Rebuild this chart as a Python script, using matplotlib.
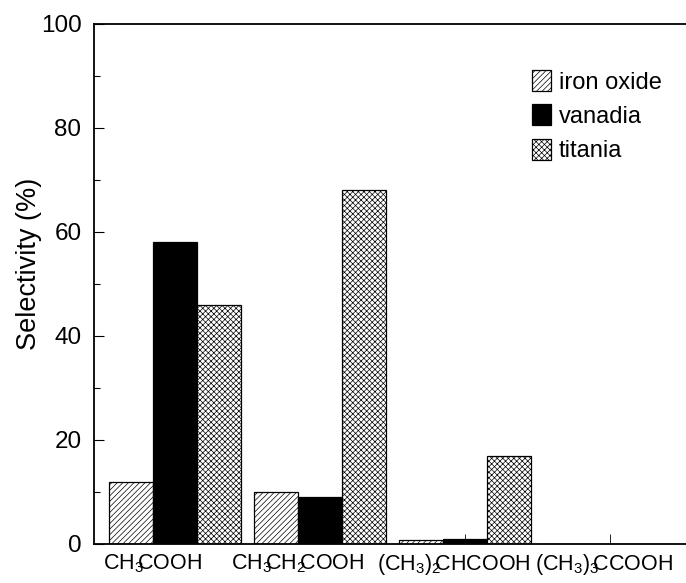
import matplotlib
matplotlib.use("Agg")
import matplotlib.pyplot as plt
import matplotlib.transforms as mtransforms
import numpy as np

# ── Data ──────────────────────────────────────────────────────────────
# subscripts are tucked under the following letter with negative math space
acids = [r"CH$_3\!\!$COOH", r"CH$_3\!\!$CH$_2\!\!$COOH",
         r"(CH$_3$)$_2\!\!$CHCOOH", r"(CH$_3$)$_3\!\!$CCOOH"]
label_shift_px = [-23, -22, -11, -6]
catalysts = ["iron oxide", "vanadia", "titania"]
iron_oxide = [12, 10, 0.8, 0]
vanadia = [58, 9, 1, 0]
titania = [46, 68, 17, 0]

# ── Style ─────────────────────────────────────────────────────────────
plt.rcParams["font.family"] = ["Liberation Sans", "DejaVu Sans"]
plt.rcParams["mathtext.fontset"] = "custom"
plt.rcParams["mathtext.rm"] = "Liberation Sans"
plt.rcParams["mathtext.it"] = "Liberation Sans"
plt.rcParams["mathtext.default"] = "rm"
plt.rcParams["hatch.linewidth"] = 0.5

fig = plt.figure(figsize=(6.86, 5.83), dpi=100)
ax = fig.add_axes([0.137, 0.067, 0.879, 0.892])

x = np.arange(len(acids))
w = 0.303
series = [iron_oxide, vanadia, titania]
styles = [
    dict(facecolor="white", hatch="//////"),
    dict(facecolor="black", hatch=None),
    dict(facecolor="white", hatch="xxxxxx"),
]
for i, (vals, name, st) in enumerate(zip(series, catalysts, styles)):
    ax.bar(x + (i - 1) * w, vals, width=w, edgecolor="black",
           linewidth=0.9, label=name, **st)

ax.set_xlim(-0.56, 3.6)
ax.set_ylim(0, 100)
ax.set_yticks(np.arange(0, 101, 20))
ax.set_yticks(np.arange(10, 100, 20), minor=True)
ax.set_xticks(x)
ax.set_xticklabels([])

# category names sit under each group, nudged left a little
base = mtransforms.blended_transform_factory(ax.transData, ax.transAxes)
for xi, name, dx in zip(x, acids, label_shift_px):
    off = mtransforms.ScaledTranslation(dx / 100, -8 / 100, fig.dpi_scale_trans)
    ax.text(xi, 0, name, transform=base + off, ha="center", va="top",
            fontsize=15.5, clip_on=False)

ax.tick_params(axis="y", which="major", direction="in", length=7,
               width=0.8, labelsize=17.5, pad=9)
ax.tick_params(axis="y", which="minor", direction="in", length=4, width=0.8)
ax.tick_params(axis="x", direction="in", length=7, width=0.6)
ax.spines["right"].set_visible(False)
for s in ["left", "bottom", "top"]:
    ax.spines[s].set_linewidth(1.3)

ax.set_ylabel("Selectivity (%)", fontsize=19.5)
ax.yaxis.set_label_coords(-0.086, 0.538)

ax.legend(loc="upper left", bbox_to_anchor=(0.775, 0.88),
          bbox_transform=fig.transFigure, frameon=False, fontsize=17,
          handlelength=0.8, handleheight=1.0, handletextpad=0.35,
          labelspacing=0.45, borderpad=0, borderaxespad=0)

fig.savefig("out.png", dpi=100)
